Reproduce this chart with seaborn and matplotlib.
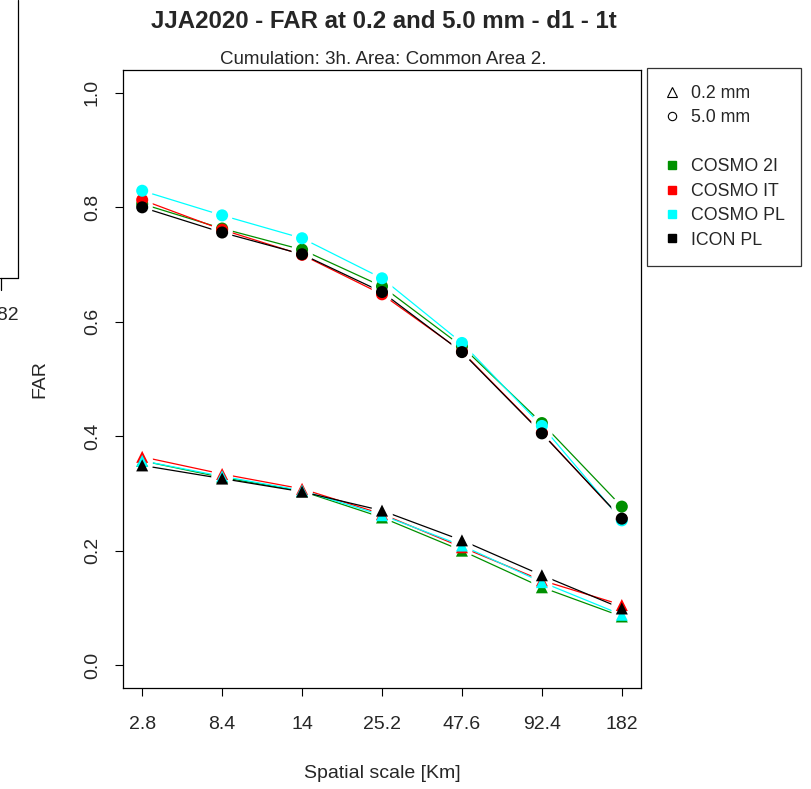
import numpy as np
import pandas as pd
import matplotlib
matplotlib.use("Agg")
import matplotlib.pyplot as plt
from matplotlib.lines import Line2D
import seaborn as sns

scales = ["2.8", "8.4", "14", "25.2", "47.6", "92.4", "182"]
models = ["COSMO 2I", "COSMO IT", "COSMO PL", "ICON PL"]
colors = ["#009000", "#FF0000", "#00FFFF", "#000000"]

far_02 = {
    "COSMO 2I": [0.357, 0.328, 0.304, 0.258, 0.200, 0.136, 0.085],
    "COSMO IT": [0.364, 0.334, 0.308, 0.264, 0.206, 0.148, 0.105],
    "COSMO PL": [0.357, 0.330, 0.305, 0.262, 0.209, 0.145, 0.088],
    "ICON PL":  [0.349, 0.326, 0.303, 0.270, 0.218, 0.157, 0.099],
}
far_50 = {
    "COSMO 2I": [0.806, 0.763, 0.726, 0.662, 0.557, 0.423, 0.277],
    "COSMO IT": [0.813, 0.761, 0.717, 0.648, 0.548, 0.406, 0.255],
    "COSMO PL": [0.829, 0.786, 0.746, 0.676, 0.563, 0.418, 0.253],
    "ICON PL":  [0.800, 0.756, 0.718, 0.652, 0.547, 0.405, 0.256],
}

sns.set_style("white")
plt.rcParams["font.family"] = ["Liberation Sans", "DejaVu Sans"]

fig = plt.figure(figsize=(8.11, 7.89), dpi=100)
W, H = 811, 789
ax = fig.add_axes([123 / W, 1 - 688 / H, (641 - 123) / W, (688 - 70) / H])

xs = np.arange(1, len(scales) + 1)

# lines
for m, c in zip(models, colors):
    for d in (far_02, far_50):
        sns.lineplot(x=xs, y=d[m], color=c, lw=0.9, ax=ax, zorder=2, errorbar=None)

# white gaps around points (R type="b")
for m in models:
    for d in (far_02, far_50):
        ax.scatter(xs, d[m], s=230, marker="o", color="white", edgecolors="none", zorder=3)

# points
for m, c in zip(models, colors):
    sns.scatterplot(x=xs, y=far_02[m], marker="^", s=75, color=c, edgecolor="none", ax=ax, zorder=4)
    sns.scatterplot(x=xs, y=far_50[m], marker="o", s=75, color=c, edgecolor="none", ax=ax, zorder=4)

ax.set_xlim(1 - 0.24, 7 + 0.24)
ax.set_ylim(-0.04, 1.04)
ax.set_xticks(xs)
ax.set_xticklabels(scales, fontsize=14)
ax.set_yticks([0.0, 0.2, 0.4, 0.6, 0.8, 1.0])
ax.set_yticklabels(["0.0", "0.2", "0.4", "0.6", "0.8", "1.0"], fontsize=14, rotation=90, va="center")
ax.tick_params(axis="x", direction="out", length=6, width=0.8, color="black", bottom=True, pad=14)
ax.tick_params(axis="y", direction="out", length=6, width=0.8, color="black", left=True, pad=10)
for s in ax.spines.values():
    s.set_color("black")
    s.set_linewidth(0.9)
ax.set_xlabel("Spatial scale [Km]", fontsize=14, va="center")
ax.xaxis.set_label_coords(0.5, -(773 - 688) / 618)
ax.set_ylabel("FAR", fontsize=14, va="center")
ax.yaxis.set_label_coords(-(123 - 40) / 518, 0.5)

fig.text(384 / W, 1 - 21 / H, "JJA2020 - FAR at 0.2 and 5.0 mm - d1 - 1t",
         ha="center", va="center", fontsize=17.3, fontweight="bold")
fig.text(383 / W, 1 - 59 / H, "Cumulation: 3h. Area: Common Area 2.",
         ha="center", va="center", fontsize=13.5)

handles = [
    Line2D([], [], marker="^", ls="none", mfc="none", mec="black", ms=7, mew=0.8),
    Line2D([], [], marker="o", ls="none", mfc="none", mec="black", ms=6, mew=0.8),
    Line2D([], [], ls="none"),
]
labels = ["0.2 mm", "5.0 mm", ""]
for m, c in zip(models, colors):
    handles.append(Line2D([], [], marker="s", ls="none", mfc=c, mec=c, ms=6))
    labels.append(m)
leg = fig.legend(handles, labels, loc="upper left", bbox_to_anchor=(647 / W, 1 - 68 / H),
                 fontsize=12.8, frameon=True, fancybox=False, edgecolor="black",
                 handletextpad=0.6, labelspacing=0.42, borderpad=0.95, handlelength=0.9,
                 borderaxespad=0)
leg.get_frame().set_linewidth(0.9)

# leftover of a neighbouring panel on the left edge
fig.add_artist(Line2D([18 / W, 18 / W], [1, 1 - 278 / H], transform=fig.transFigure, color="black", lw=0.9))
fig.add_artist(Line2D([0, 18 / W], [1 - 278 / H, 1 - 278 / H], transform=fig.transFigure, color="black", lw=0.9))
fig.add_artist(Line2D([1 / W, 1 / W], [1 - 278 / H, 1 - 290 / H], transform=fig.transFigure, color="black", lw=0.9))
fig.text(-13 / W, 1 - 316 / H, "182", ha="left", va="center", fontsize=14)

fig.savefig("out.png", dpi=100)
